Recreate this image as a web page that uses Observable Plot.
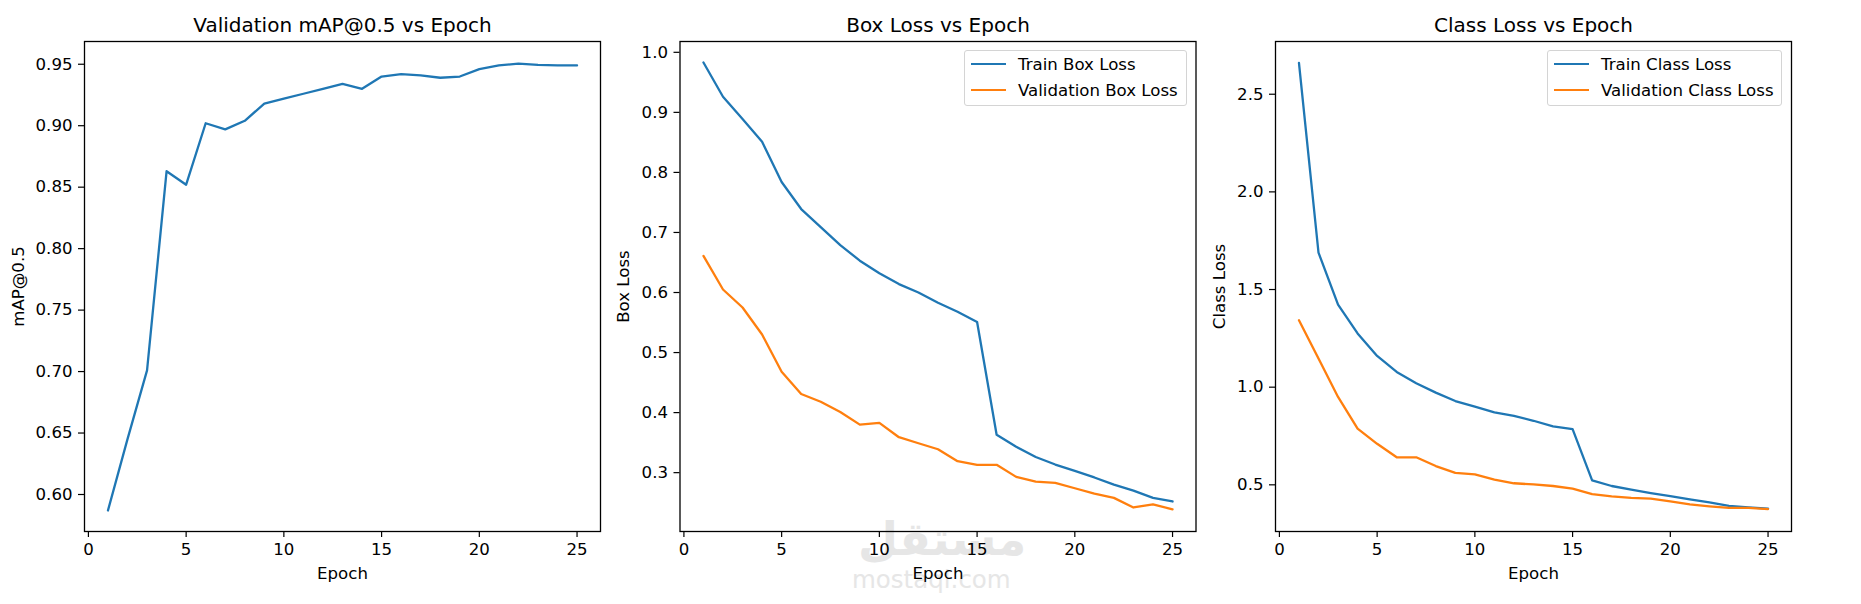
<!DOCTYPE html>
<html>
<head>
<meta charset="utf-8">
<script src="https://cdn.jsdelivr.net/npm/d3@7"></script>
<script src="https://cdn.jsdelivr.net/npm/@observablehq/plot@0.6"></script>
<style>
  html, body { margin: 0; padding: 0; background: white; }
  #root { position: relative; width: 1861px; height: 604px; overflow: hidden; font-family: "DejaVu Sans", sans-serif; }
  .panel { position: absolute; top: 0; }
  .legend { position: absolute; background: rgba(255,255,255,0.8); border: 1px solid #d4d4d4; border-radius: 3px; box-sizing: border-box; font-size: 16.6px; color: #000; white-space: nowrap; }
  .legend .row { position: absolute; height: 20px; display: flex; align-items: center; }
  .legend .sw { position: absolute; height: 2.4px; }
  .wm { position: absolute; color: #e6e6e6; font-family: "DejaVu Sans", sans-serif; white-space: nowrap; }
</style>
</head>
<body>
<div id="root"></div>
<script>
// ---- data ----
const epochs = [1,2,3,4,5,6,7,8,9,10,11,12,13,14,15,16,17,18,19,20,21,22,23,24,25];
const mapValues = [0.587, 0.645, 0.701, 0.863, 0.852, 0.902, 0.897, 0.904, 0.918, 0.922, 0.926, 0.930, 0.934, 0.930, 0.940, 0.942, 0.941, 0.939, 0.940, 0.946, 0.949, 0.9505, 0.9495, 0.949, 0.949];
const trainBox = [0.983, 0.926, 0.889, 0.851, 0.784, 0.739, 0.709, 0.679, 0.653, 0.632, 0.614, 0.600, 0.583, 0.568, 0.551, 0.363, 0.343, 0.326, 0.3135, 0.303, 0.292, 0.280, 0.270, 0.258, 0.252];
const valBox = [0.661, 0.605, 0.575, 0.530, 0.468, 0.431, 0.418, 0.401, 0.380, 0.383, 0.359, 0.349, 0.339, 0.319, 0.313, 0.313, 0.293, 0.285, 0.283, 0.274, 0.265, 0.258, 0.242, 0.247, 0.239];
const trainCls = [2.660, 1.689, 1.423, 1.275, 1.160, 1.078, 1.020, 0.972, 0.929, 0.900, 0.871, 0.853, 0.828, 0.799, 0.785, 0.523, 0.494, 0.476, 0.458, 0.442, 0.426, 0.410, 0.392, 0.385, 0.378];
const valCls = [1.343, 1.147, 0.950, 0.788, 0.710, 0.641, 0.641, 0.596, 0.561, 0.553, 0.527, 0.508, 0.502, 0.494, 0.480, 0.452, 0.441, 0.433, 0.429, 0.415, 0.400, 0.390, 0.382, 0.382, 0.376];

const xTicks = [0, 5, 10, 15, 20, 25];
const mapTicks = [0.60, 0.65, 0.70, 0.75, 0.80, 0.85, 0.90, 0.95];
const boxTicks = [0.3, 0.4, 0.5, 0.6, 0.7, 0.8, 0.9, 1.0];
const clsTicks = [0.5, 1.0, 1.5, 2.0, 2.5];

const titles = ["Validation mAP@0.5 vs Epoch", "Box Loss vs Epoch", "Class Loss vs Epoch"];
const yLabels = ["mAP@0.5", "Box Loss", "Class Loss"];
const xLabel = "Epoch";
const boxLegend = ["Train Box Loss", "Validation Box Loss"];
const clsLegend = ["Train Class Loss", "Validation Class Loss"];

const BLUE = "#1f77b4", ORANGE = "#ff7f0e";
const root = document.getElementById("root");

function panel({left, marginLeft, width, yDomain, yTicks, yFmt, title, ylabel, ylabelDx, series}) {
  const frameW = 516;
  const marks = [
    Plot.frame({stroke: "black", strokeWidth: 1.3}),
    Plot.axisX({ticks: xTicks, tickFormat: d3.format("d"), tickSize: 6, tickPadding: 6, strokeWidth: 1.2, label: null}),
    Plot.axisY({ticks: yTicks, tickFormat: d3.format(yFmt), tickSize: 6, tickPadding: 6, strokeWidth: 1.2, label: null}),
    Plot.text([title], {text: d => d, frameAnchor: "top", dy: -10, lineAnchor: "bottom", fontSize: 20}),
    Plot.text([xLabel], {text: d => d, frameAnchor: "bottom", dy: 36, lineAnchor: "top", fontSize: 16.6}),
    Plot.text([ylabel], {text: d => d, frameAnchor: "left", dx: ylabelDx, rotate: -90, lineAnchor: "middle", textAnchor: "middle", fontSize: 16.6})
  ];
  for (const s of series) {
    marks.push(Plot.line(epochs, {x: d => d, y: (d, i) => s.values[i], stroke: s.color, strokeWidth: 2.3}));
  }
  const chart = Plot.plot({
    width, height: 604,
    marginLeft, marginRight: width - marginLeft - frameW,
    marginTop: 41, marginBottom: 73,
    x: {domain: [-0.2, 26.2], label: null},
    y: {domain: yDomain, label: null},
    style: {fontFamily: "DejaVu Sans", fontSize: "16.6px", background: "transparent", color: "black", overflow: "visible"},
    marks
  });
  chart.classList.add("panel");
  chart.style.left = left + "px";
  root.appendChild(chart);
}

function legend(left, top, width, items) {
  const box = document.createElement("div");
  box.className = "legend";
  box.style.left = left + "px";
  box.style.top = top + "px";
  box.style.width = width + "px";
  box.style.height = "56px";
  items.forEach((it, i) => {
    const cy = 13 + i * 26;
    const sw = document.createElement("div");
    sw.className = "sw";
    sw.style.left = "6px"; sw.style.width = "35px"; sw.style.top = (cy - 1.2) + "px";
    sw.style.background = it.color;
    box.appendChild(sw);
    const row = document.createElement("div");
    row.className = "row";
    row.style.left = "53px"; row.style.top = (cy - 10) + "px";
    row.textContent = it.label;
    box.appendChild(row);
  });
  root.appendChild(box);
}

// watermark (behind the transparent plots)
const wm1 = document.createElement("div");
wm1.className = "wm";
wm1.style.left = "858px"; wm1.style.top = "512px"; wm1.style.fontSize = "46px"; wm1.style.fontWeight = "bold";
wm1.textContent = "مستقل";
root.appendChild(wm1);
const wm2 = document.createElement("div");
wm2.className = "wm";
wm2.style.left = "852px"; wm2.style.top = "565px"; wm2.style.fontSize = "24.5px";
wm2.textContent = "mostaql.com";
root.appendChild(wm2);

panel({left: 0, marginLeft: 84, width: 620, yDomain: [0.5699, 0.9685], yTicks: mapTicks, yFmt: ".2f",
  title: titles[0], ylabel: yLabels[0], ylabelDx: -66,
  series: [{values: mapValues, color: BLUE}]});
panel({left: 600, marginLeft: 79.5, width: 620, yDomain: [0.202, 1.018], yTicks: boxTicks, yFmt: ".1f",
  title: titles[1], ylabel: yLabels[1], ylabelDx: -56.5,
  series: [{values: trainBox, color: BLUE}, {values: valBox, color: ORANGE}]});
panel({left: 1200, marginLeft: 75, width: 620, yDomain: [0.261, 2.77], yTicks: clsTicks, yFmt: ".1f",
  title: titles[2], ylabel: yLabels[2], ylabelDx: -56,
  series: [{values: trainCls, color: BLUE}, {values: valCls, color: ORANGE}]});

legend(964, 50, 223, [{label: boxLegend[0], color: BLUE}, {label: boxLegend[1], color: ORANGE}]);
legend(1547, 50, 235, [{label: clsLegend[0], color: BLUE}, {label: clsLegend[1], color: ORANGE}]);
</script>
</body>
</html>
